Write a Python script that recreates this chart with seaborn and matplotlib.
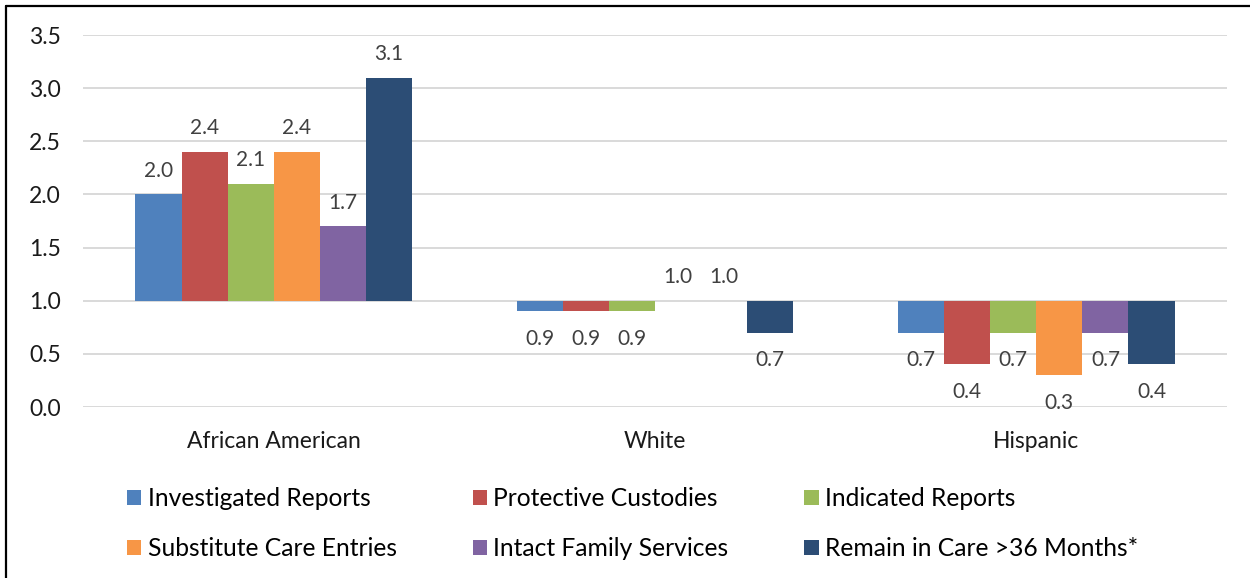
import numpy as np
import pandas as pd
import seaborn as sns
import matplotlib
matplotlib.use("Agg")
import matplotlib.pyplot as plt
from matplotlib.ticker import FuncFormatter, MultipleLocator
from matplotlib.patches import Patch
from matplotlib.lines import Line2D

# Relative Rate Index by race, one list per measure (order: groups)
groups = ["African American", "White", "Hispanic"]
measures = [
    "Investigated Reports",
    "Protective Custodies",
    "Indicated Reports",
    "Substitute Care Entries",
    "Intact Family Services",
    "Remain in Care >36 Months*",
]
investigated = [2.0, 0.9, 0.7]
protective = [2.4, 0.9, 0.4]
indicated = [2.1, 0.9, 0.7]
substitute = [2.4, 1.0, 0.3]
intact = [1.7, 1.0, 0.7]
remain = [3.1, 0.7, 0.4]
series = [investigated, protective, indicated, substitute, intact, remain]

colors = ["#4F81BD", "#C0504D", "#9BBB59", "#F79646", "#8064A2", "#2C4D75"]
baseline = 1.0  # parity line: bars grow up or down from here

rows = []
for m, vals in zip(measures, series):
    for g, v in zip(groups, vals):
        rows.append({"group": g, "measure": m, "rri": v, "dev": v - baseline})
df = pd.DataFrame(rows)

sns.set_theme(style="white")
plt.rcParams["font.family"] = ["Lato", "DejaVu Sans"]

fig = plt.figure(figsize=(12.5, 5.78), dpi=100)
ax = fig.add_axes([83 / 1250, 1 - 407 / 578, (1227 - 83) / 1250, (407 - 35) / 578])

sns.barplot(
    data=df, x="group", y="dev", hue="measure",
    order=groups, hue_order=measures, palette=colors,
    width=0.725, gap=0, errorbar=None, saturation=1,
    legend=False, ax=ax, edgecolor="none", linewidth=0,
)

# value labels above rising bars, below falling ones
for m, cont in zip(measures, ax.containers):
    vals = df[df["measure"] == m].set_index("group").loc[groups, "rri"].values
    for bar, v in zip(cont.patches, vals):
        cx = bar.get_x() + bar.get_width() / 2
        top = bar.get_y() + bar.get_height()
        bot = bar.get_y()
        if v >= baseline:
            ax.annotate(f"{v:.1f}", (cx, max(top, bot)), xytext=(0, 17),
                        textcoords="offset points", ha="center", va="center",
                        fontsize=15, color="#404040")
        else:
            ax.annotate(f"{v:.1f}", (cx, min(top, bot)), xytext=(0, -20),
                        textcoords="offset points", ha="center", va="center",
                        fontsize=15, color="#404040")

ax.set_ylim(-1, 2.5)
ax.yaxis.set_major_locator(MultipleLocator(0.5))
ax.yaxis.set_major_formatter(FuncFormatter(lambda v, _: f"{v + baseline:.1f}"))
ax.grid(axis="y", color="#D9D9D9", linewidth=1.4)
ax.set_axisbelow(True)
for s in ax.spines.values():
    s.set_visible(False)
ax.tick_params(axis="both", length=0, labelsize=16.5, labelcolor="#1a1a1a")
ax.tick_params(axis="y", pad=16)
ax.tick_params(axis="x", pad=17)
ax.set_xlabel("")
ax.set_ylabel("")

# legend: two rows of three, filled row by row
handles = [Patch(facecolor=c, edgecolor="none") for c in colors]
order = [0, 3, 1, 4, 2, 5]
fig.legend(
    [handles[i] for i in order], [measures[i] for i in order],
    ncol=3, loc="upper left", bbox_to_anchor=(105 / 1250, 1 - 465 / 578),
    frameon=False, fontsize=17.7, handlelength=0.58, handleheight=0.62,
    handletextpad=0.25, columnspacing=3.1, labelspacing=1.1,
    labelcolor="#000000",
)

# chart frame
fig.add_artist(Line2D([6 / 1250, 1], [1 - 6 / 578] * 2, transform=fig.transFigure,
                      color="black", linewidth=1.6))
fig.add_artist(Line2D([6 / 1250] * 2, [0, 1 - 6 / 578], transform=fig.transFigure,
                      color="black", linewidth=1.6))

fig.savefig("out.png", dpi=100, facecolor="white")
